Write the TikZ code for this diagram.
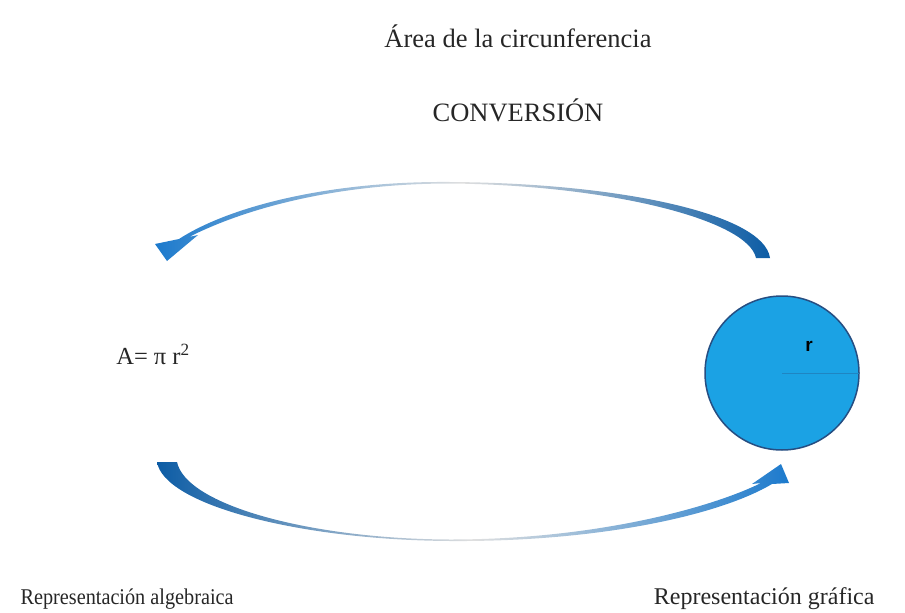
\documentclass[tikz,border=0pt]{standalone}
\usepackage{fontspec}
\setmainfont{Liberation Serif}
\setsansfont{Liberation Sans}
\usepackage{tikz}
\usetikzlibrary{positioning}

\definecolor{circfill}{RGB}{27,162,228}
\definecolor{circline}{RGB}{38,78,130}
\definecolor{arcdark}{RGB}{12,92,165}
\definecolor{arclight}{RGB}{28,122,205}

\tikzset{
  title/.style={font=\fontsize{26.5}{31}\selectfont, text=black!85},
  label/.style={font=\fontsize{22.5}{27}\selectfont, text=black!85},
  formula/.style={font=\fontsize{24.5}{29}\selectfont, text=black!85},
  bentarrow/.style={draw=none}
}

\begin{document}
\begin{tikzpicture}[x=1pt,y=-1pt]
\useasboundingbox (0,0) rectangle (905,613);

\coordinate (O) at (782,373);
\coordinate (E) at (859,373);

\node[title] (area) at (518,36) {Área de la circunferencia};
\node[title] (conv) at (518,110) {CONVERSIÓN};

\node[formula] (alg) at (153,354) {A= π r\textsuperscript{2}};

\draw[circline, line width=1.5pt, fill=circfill] (O) circle (77);
\draw[circline!35!circfill, line width=0.8pt] (O) -- (E);
\node[font=\sffamily\bfseries\fontsize{19}{22}\selectfont] (r) at (809,346) {r};

\node[label, anchor=base west] (lalg) at (17,604) {\scalebox{0.9}[1]{Representación algebraica}};
\node[label, anchor=base east, font=\fontsize{24}{28}\selectfont] (lgraf) at (878,604) {Representación gráfica};

\shade[bentarrow, left color=arclight, right color=arcdark, middle color=white!75!gray]
  (770,258) .. controls (764,214) and (620,183) .. (450,182)
  .. controls (330,181) and (230,206) .. (179,239)
  -- (155,244) -- (167,261) -- (198,235) -- (189,237)
  .. controls (240,211) and (330,183.5) .. (450,183.5)
  .. controls (610,185) and (748,220) .. (756,258) -- cycle;

\shade[bentarrow, left color=arcdark, right color=arclight, middle color=white!75!gray]
  (157,462) .. controls (164,505) and (300,540) .. (450,541)
  .. controls (600,542) and (720,515) .. (772,484)
  -- (789,483) -- (781,464) -- (752,484) -- (761,483)
  .. controls (715,506) and (600,539.5) .. (450,539.5)
  .. controls (310,539) and (186,505) .. (177,462) -- cycle;
\end{tikzpicture}
\end{document}
